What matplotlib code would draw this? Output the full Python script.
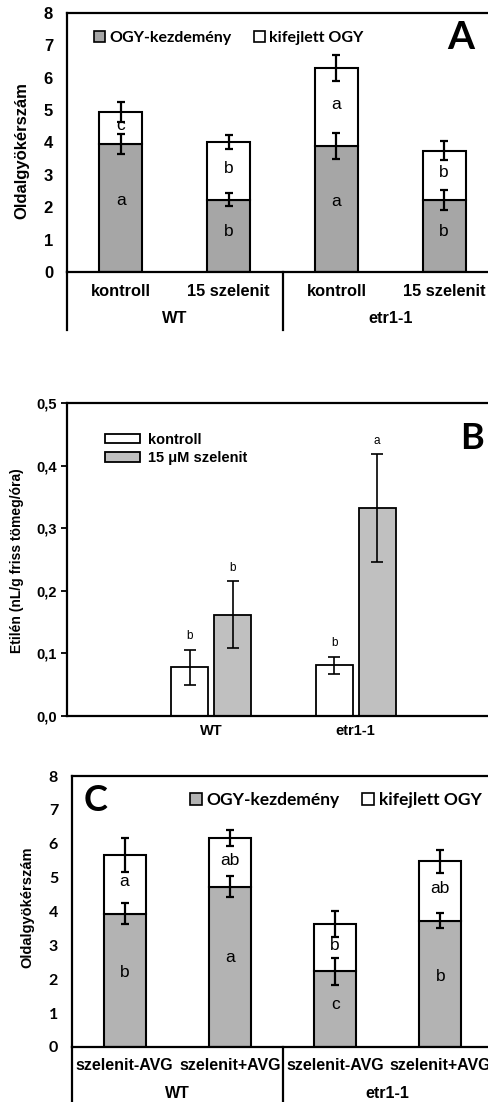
import matplotlib
matplotlib.use('Agg')
import matplotlib.pyplot as plt
from matplotlib.patches import Patch
import numpy as np

plt.rcParams['font.family'] = ['Liberation Sans', 'DejaVu Sans']

# --- A: lateral root number, WT / etr1-1, control vs 15 selenite ---
a_groups = ['WT', 'etr1-1']
a_treat = ['kontroll', '15 szelenit', 'kontroll', '15 szelenit']
a_base = [3.95, 2.23, 3.90, 2.23]
a_base_err = [0.30, 0.20, 0.40, 0.30]
a_total = [4.95, 4.01, 6.31, 3.75]
a_total_err = [0.31, 0.21, 0.40, 0.30]
a_base_let = ['a', 'b', 'a', 'b']
a_top_let = ['c', 'b', 'a', 'b']

# --- B: ethylene emission ---
b_groups = ['WT', 'etr1-1']
b_ctrl = [0.078, 0.081]
b_ctrl_err = [0.028, 0.014]
b_sel = [0.162, 0.332]
b_sel_err = [0.053, 0.086]
b_ctrl_let = ['b', 'b']
b_sel_let = ['b', 'a']

# --- C: lateral root number with / without AVG ---
c_groups = ['WT', 'etr1-1']
c_treat = ['szelenit-AVG', 'szelenit+AVG', 'szelenit-AVG', 'szelenit+AVG']
c_base = [3.94, 4.73, 2.24, 3.73]
c_base_err = [0.30, 0.31, 0.40, 0.23]
c_total = [5.68, 6.17, 3.63, 5.48]
c_total_err = [0.50, 0.24, 0.39, 0.33]
c_base_let = ['b', 'a', 'c', 'b']
c_top_let = ['a', 'ab', 'b', 'ab']

W, H = 488, 1102
fig = plt.figure(figsize=(W / 100, H / 100), dpi=100)


def px_axes(l, t, r, b):
    return fig.add_axes([l / W, 1 - b / H, (r - l) / W, (b - t) / H])


def stacked_panel(ax, base, base_err, total, total_err, base_let, top_let,
                  treat, groups, gray, tickfont, ylab_size, cat_size,
                  ylab_x, ylab_y, lab_y, grp_y, line_bottom):
    x = np.arange(len(base))
    base = np.array(base)
    total = np.array(total)
    top = total - base
    ax.bar(x, base, 0.4, color=gray, edgecolor='black', linewidth=1.5, zorder=2)
    ax.bar(x, top, 0.4, bottom=base, color='white', edgecolor='black',
           linewidth=1.5, zorder=2)
    ax.errorbar(x, base, yerr=base_err, fmt='none', ecolor='black',
                elinewidth=1.6, capsize=3.2, capthick=1.6, zorder=3)
    ax.errorbar(x, total, yerr=total_err, fmt='none', ecolor='black',
                elinewidth=1.6, capsize=3.2, capthick=1.6, zorder=3)
    for i in range(len(x)):
        ax.text(x[i], base[i] * 0.56, base_let[i], ha='center', va='center',
                fontsize=12.5, zorder=4)
        ax.text(x[i], (base[i] + total[i]) / 2 + 0.07, top_let[i],
                ha='center', va='center', fontsize=12.5, zorder=4)
    ax.set_xlim(-0.5, len(x) - 0.5)
    ax.set_ylim(0, 8)
    ax.set_yticks(range(0, 9))
    ax.set_xticks([])
    ax.tick_params(axis='y', length=0, pad=10)
    for t in ax.get_yticklabels():
        t.set_fontproperties(tickfont)
    for s in ax.spines.values():
        s.set_linewidth(1.6)
    ax.text(ylab_x, ylab_y, 'Oldalgyökérszám', transform=ax.transAxes,
            rotation=90, ha='center', va='center', fontsize=ylab_size,
            fontweight='bold')
    tr = ax.get_xaxis_transform()
    for i in range(len(x)):
        ax.text(x[i], lab_y, treat[i], transform=tr, ha='center', va='center',
                fontsize=cat_size, fontweight='bold')
    for g, name in enumerate(groups):
        ax.text(0.5 + 2 * g, grp_y, name, transform=tr, ha='center',
                va='center', fontsize=cat_size, fontweight='bold')
    for xv in (-0.5, 1.5):
        ax.plot([xv, xv], [0, line_bottom], transform=tr, color='black',
                lw=1.6, clip_on=False)


# ---------- panel A ----------
axA = px_axes(67, 13, 498, 272)
stacked_panel(axA, a_base, a_base_err, a_total, a_total_err, a_base_let,
              a_top_let, a_treat, a_groups, '#a6a6a6',
              {'family': 'Liberation Sans', 'weight': 'bold', 'size': 12},
              12, 11.8, -0.104, 0.47, -0.077, -0.181, -0.224)
hA = [Patch(facecolor='#a6a6a6', edgecolor='black', lw=1.2),
      Patch(facecolor='white', edgecolor='black', lw=1.2)]
axA.legend(hA, ['OGY-kezdemény', 'kifejlett OGY'], loc='center left',
           bbox_to_anchor=(0.062, 0.903), ncol=2, frameon=False,
           handlelength=0.7, handleheight=0.7, handletextpad=0.25,
           columnspacing=1.4, borderpad=0, borderaxespad=0,
           prop={'family': 'Lato', 'weight': 'bold', 'size': 11.5})
axA.text(0.914, 0.907, 'A', transform=axA.transAxes, ha='center',
         va='center', fontsize=28, fontweight='bold', family='Lato')

# ---------- panel B ----------
axB = px_axes(67, 403, 500, 716)
xb = np.array([1, 2])
bw = 0.256
axB.bar(xb - 0.149, b_ctrl, bw, color='white', edgecolor='black',
        linewidth=1.3, zorder=2)
axB.bar(xb + 0.149, b_sel, bw, color='#c0c0c0', edgecolor='black',
        linewidth=1.3, zorder=2)
axB.errorbar(xb - 0.149, b_ctrl, yerr=b_ctrl_err, fmt='none', ecolor='black',
             elinewidth=1.2, capsize=4.5, capthick=1.2, zorder=3)
axB.errorbar(xb + 0.149, b_sel, yerr=b_sel_err, fmt='none', ecolor='black',
             elinewidth=1.2, capsize=4.5, capthick=1.2, zorder=3)
for i in range(len(xb)):
    axB.text(xb[i] - 0.149, b_ctrl[i] + b_ctrl_err[i] + 0.021, b_ctrl_let[i],
             ha='center', va='center', fontsize=8.5)
    axB.text(xb[i] + 0.149, b_sel[i] + b_sel_err[i] + 0.021, b_sel_let[i],
             ha='center', va='center', fontsize=8.5)
axB.set_xlim(0, 3)
axB.set_ylim(0, 0.5)
yt = np.arange(0, 0.51, 0.1)
axB.set_yticks(yt)
axB.set_yticklabels([f'{v:.1f}'.replace('.', ',') for v in yt],
                    fontsize=10.5, fontweight='bold')
axB.set_xticks(xb)
axB.set_xticklabels(b_groups, fontsize=10.5, fontweight='bold')
axB.tick_params(axis='y', length=4, width=1.3, pad=3.5)
axB.tick_params(axis='x', length=0, pad=6)
for s in axB.spines.values():
    s.set_linewidth(1.6)
axB.text(-0.115, 0.498, 'Etilén (nL/g friss tömeg/óra)', transform=axB.transAxes,
         rotation=90, ha='center', va='center', fontsize=10, fontweight='bold')
hB = [Patch(facecolor='white', edgecolor='black', lw=1.3),
      Patch(facecolor='#c0c0c0', edgecolor='black', lw=1.3)]
axB.legend(hB, ['kontroll', '15 μM szelenit'], loc='center left',
           bbox_to_anchor=(0.088, 0.853), frameon=False, handlelength=2.4,
           handleheight=0.6, handletextpad=0.55, labelspacing=0.3,
           borderpad=0, borderaxespad=0,
           prop={'family': 'Liberation Sans', 'weight': 'bold', 'size': 10.5})
axB.text(0.935, 0.888, 'B', transform=axB.transAxes, ha='center',
         va='center', fontsize=26, fontweight='bold', family='Lato')

# ---------- panel C ----------
axC = px_axes(72, 776, 493, 1047)
stacked_panel(axC, c_base, c_base_err, c_total, c_total_err, c_base_let,
              c_top_let, c_treat, c_groups, '#b3b3b3',
              {'family': 'Lato', 'weight': 'bold', 'size': 11.5},
              10.5, 11.5, -0.105, 0.517, -0.068, -0.171, -0.21)
hC = [Patch(facecolor='#b3b3b3', edgecolor='black', lw=1.2),
      Patch(facecolor='white', edgecolor='black', lw=1.2)]
axC.legend(hC, ['OGY-kezdemény', 'kifejlett OGY'],
           loc='center left', bbox_to_anchor=(0.28, 0.91), ncol=2,
           frameon=False, handlelength=0.7, handleheight=0.7,
           handletextpad=0.25, columnspacing=1.3, borderpad=0, borderaxespad=0,
           prop={'family': 'Lato', 'weight': 'bold', 'size': 12.5})
axC.text(0.057, 0.91, 'C', transform=axC.transAxes, ha='center',
         va='center', fontsize=26, fontweight='bold', family='Lato')

fig.savefig('out.png', dpi=100)
